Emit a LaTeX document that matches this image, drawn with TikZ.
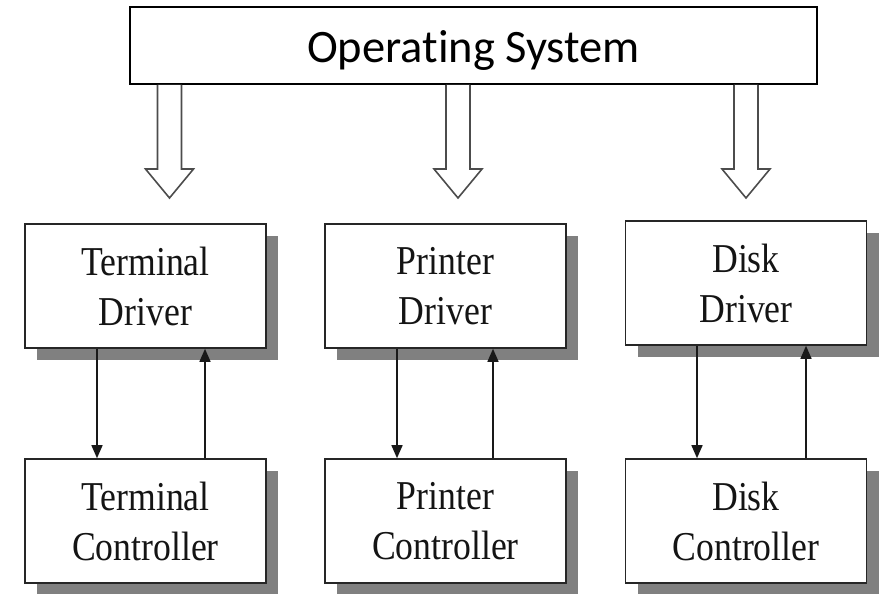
\documentclass[tikz,border=0pt]{standalone}
\usepackage{fontspec}
\setmainfont{Liberation Serif}
\newfontfamily\osfont[Ligatures=NoCommon]{Carlito}
\newfontfamily\boxfont[FakeStretch=0.87]{Liberation Serif}
\usetikzlibrary{arrows.meta,shadows}
\begin{document}
\begin{tikzpicture}[x=1pt,y=-1pt,
  osbox/.style={draw=black, line width=2pt, fill=white, minimum width=687pt,
    minimum height=77pt, inner sep=0pt, text height=34pt, text depth=0pt,
    font=\osfont\fontsize{46.5}{50}\selectfont},
  devbox/.style={draw=black!85, line width=1.6pt, fill=white, minimum width=241pt,
    minimum height=124pt, inner sep=0pt, align=center, text=black!92,
    font=\boxfont\fontsize{41}{50}\selectfont,
    drop shadow={shadow xshift=12pt, shadow yshift=-12pt, fill=black!50, opacity=1}},
  link/.style={draw=black!90, line width=1.5pt, -{Triangle[length=13pt,width=11pt]}},
  hollow/.style={draw=black!70, line width=1.6pt, fill=white, line join=miter}
]
\useasboundingbox (0,0) rectangle (881,594);

% operating system bar
\node[osbox] (os) at (473.5,45.5) {Operating System};

% drivers
\node[devbox] (td) at (145.5,286) {Terminal\\Driver};
\node[devbox] (pd) at (445.5,286) {Printer\\Driver};
\node[devbox] (dd) at (746,283) {Disk\\Driver};

% controllers
\node[devbox] (tc) at (145.5,521) {Terminal\\Controller};
\node[devbox] (pc) at (445.5,521) {Printer\\Controller};
\node[devbox] (dc) at (746,521) {Disk\\Controller};

% hollow block arrows hanging from the OS bar
\foreach \dx in {-304,-15.5,272.5}{
  \draw[hollow] ([xshift=\dx pt]os.south) ++(-12,0) -- ++(0,84) -- ++(-12,0)
    -- ++(24,29) -- ++(24,-29) -- ++(-12,0) -- ++(0,-84);
}

% driver <-> controller links
\draw[link] ([xshift=-48.5pt]td.south) -- ([xshift=-48.5pt]tc.north);
\draw[link] ([xshift=59.5pt]tc.north) -- ([xshift=59.5pt]td.south);
\draw[link] ([xshift=-48.5pt]pd.south) -- ([xshift=-48.5pt]pc.north);
\draw[link] ([xshift=47.5pt]pc.north) -- ([xshift=47.5pt]pd.south);
\draw[link] ([xshift=-49pt]dd.south) -- ([xshift=-49pt]dc.north);
\draw[link] ([xshift=60pt]dc.north) -- ([xshift=60pt]dd.south);
\end{tikzpicture}
\end{document}
